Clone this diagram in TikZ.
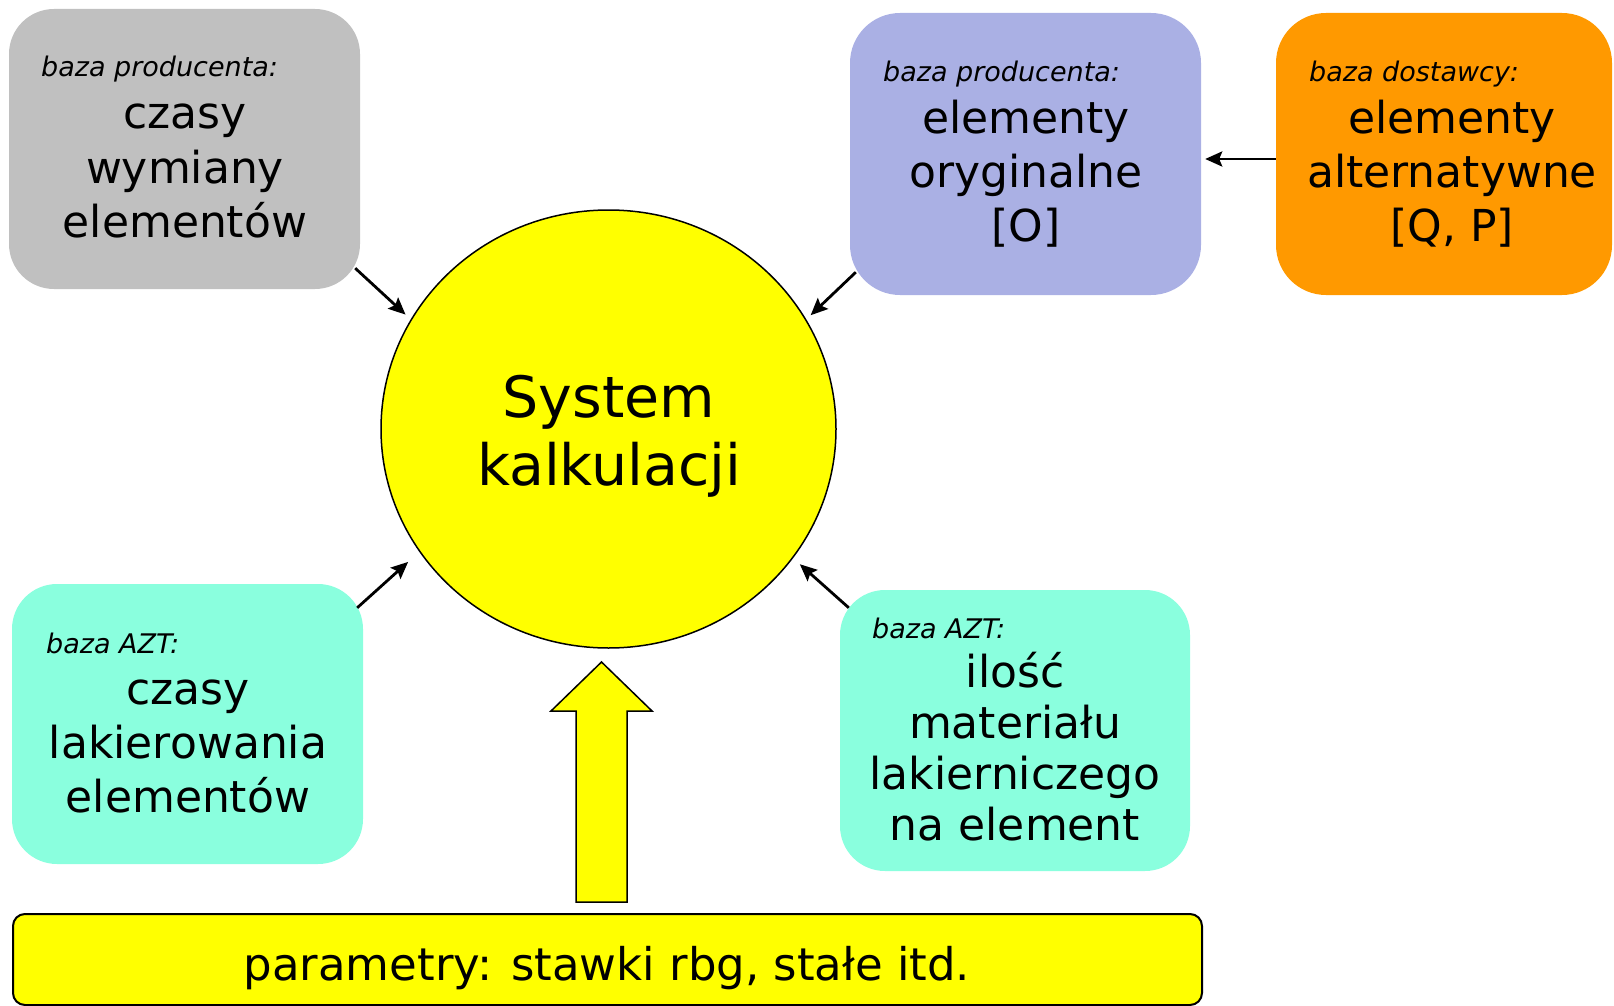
\documentclass[tikz,border=0pt]{standalone}
\usepackage{fontspec}
\setmainfont{DejaVu Sans}
\usetikzlibrary{shapes.geometric,arrows.meta,calc}
\definecolor{grayfill}{RGB}{192,192,192}
\definecolor{bluefill}{RGB}{170,176,228}
\definecolor{orangefill}{RGB}{255,153,0}
\definecolor{tealfill}{RGB}{138,255,222}
\definecolor{yellowfill}{RGB}{255,255,0}
\begin{document}
\begin{tikzpicture}[x=1pt,y=-1pt,
  box/.style={draw=none, rounded corners=45pt, minimum width=351pt, minimum height=280pt, inner sep=0pt},
  lbl/.style={anchor=base west, font=\fontsize{27}{31}\selectfont\itshape, inner sep=0pt},
  mainline/.style={anchor=base, font=\fontsize{44}{50}\selectfont, inner sep=0pt},
  arr/.style={line width=2.8pt, -{Stealth[length=17pt,width=15pt,inset=3pt]}}]
\useasboundingbox (0,0) rectangle (1614,1006);
% boxes
\node[box, fill=grayfill] (gray) at (184.5,149) {};
\node[box, fill=bluefill, minimum height=282pt, rounded corners=50pt] (blue) at (1025.5,154) {};
\node[box, fill=orangefill, minimum width=336pt, minimum height=282pt, rounded corners=50pt] (orange) at (1444,154) {};
\node[box, fill=tealfill] (tealL) at (187.5,724) {};
\node[box, fill=tealfill, minimum width=350pt, minimum height=281pt] (tealR) at (1015,730.5) {};
\node[ellipse, draw, line width=1.5pt, fill=yellowfill, minimum width=455pt, minimum height=438pt, inner sep=0pt] (circ) at (608.5,429) {};
\node[draw, line width=2pt, fill=yellowfill, rounded corners=12pt, minimum width=1189pt, minimum height=91pt, inner sep=0pt] (bar) at (607.5,959.5) {};
% texts gray
\node[lbl] (g0) at (41,77) {baza producenta:};
\node[mainline] (g1) at (185,129) {czasy};
\node[mainline] (g2) at (185,183) {wymiany};
\node[mainline] (g3) at (185,237) {elementów};
% texts blue
\node[lbl] (b0) at (883,82) {baza producenta:};
\node[mainline] (b1) at (1026,134) {elementy};
\node[mainline] (b2) at (1026,187) {oryginalne};
\node[mainline] (b3) at (1026,241) {[O]};
% texts orange
\node[lbl] (o0) at (1309,82) {baza dostawcy:};
\node[mainline] (o1) at (1452,134) {elementy};
\node[mainline] (o2) at (1452,187) {alternatywne};
\node[mainline] (o3) at (1452,241) {[Q, P]};
% circle text
\node[anchor=base, font=\fontsize{57}{66}\selectfont, inner sep=0pt] (c1) at (609,417) {System};
\node[anchor=base, font=\fontsize{57}{66}\selectfont, inner sep=0pt] (c2) at (609,485) {kalkulacji};
% left teal
\node[lbl] (l0) at (46,653) {baza AZT:};
\node[mainline] (l1) at (188,704) {czasy};
\node[mainline] (l2) at (188,758) {lakierowania};
\node[mainline] (l3) at (188,812) {elementów};
% right teal
\node[lbl] (r0) at (872,638) {baza AZT:};
\node[mainline] (r1) at (1015,687) {ilość};
\node[mainline] (r2) at (1015,738) {materiału};
\node[mainline] (r3) at (1015,789) {lakierniczego};
\node[mainline] (r4) at (1015,840) {na element};
% bar text
\node[anchor=base, font=\fontsize{45}{52}\selectfont, inner sep=0pt] (p1) at (607,980) {parametry: stawki rbg, stałe itd.};
% arrows
\draw[arr, shorten >=7pt] ([shift={(-5,-21)}]gray.south east) -- (circ.151.1);
\draw[arr, shorten >=6pt] ([shift={(6,-23)}]blue.south west) -- (circ.29.2);
\draw[arr, shorten >=15pt] ([shift={(-6,24)}]tealL.north east) -- (circ.213);
\draw[arr, shorten >=9pt] ([shift={(9,18)}]tealR.north west) -- (circ.325.8);
\draw[arr, shorten >=4pt] ([shift={(0,5)}]orange.west) -- ([shift={(0,5)}]blue.east);
% big block arrow
\coordinate (ab1) at (576,902);
\coordinate (ab2) at (576,711);
\coordinate (ab3) at (551,711);
\coordinate (abt) at (601.5,662);
\coordinate (ab4) at (652,711);
\coordinate (ab5) at (627,711);
\coordinate (ab6) at (627,902);
\draw[fill=yellowfill, line width=1.5pt, line join=miter] (ab1) -- (ab2) -- (ab3) -- (abt) -- (ab4) -- (ab5) -- (ab6) -- cycle;
\end{tikzpicture}
\end{document}
